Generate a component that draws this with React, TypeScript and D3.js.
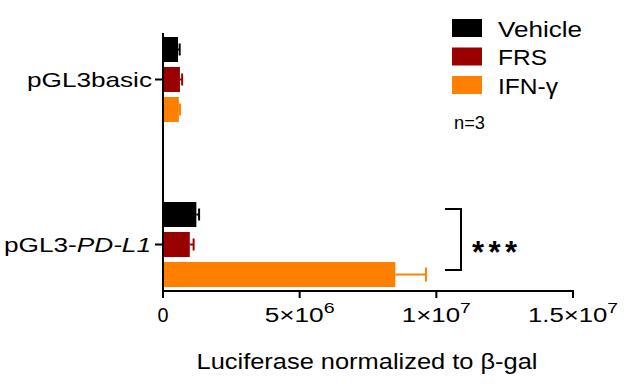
import React, { useEffect, useRef } from "react";
import * as d3 from "d3";

// data
const groups = ["pGL3basic", "pGL3-PD-L1"];
const series = ["Vehicle", "FRS", "IFN-γ"];
const colors = ["#000000", "#990000", "#ff8000"];
const means = [
  [0.55e6, 0.62e6, 0.58e6],
  [1.22e6, 0.98e6, 8.5e6],
];
const errors = [
  [0.06e6, 0.08e6, 0.04e6],
  [0.1e6, 0.14e6, 1.12e6],
];
const xTicks = [0, 5e6, 1e7, 1.5e7];
const xTickLabels = [["0", ""], ["5×10", "6"], ["1×10", "7"], ["1.5×10", "7"]];
const xTickWidths = [11, 70, 69, 90];
const legendWidths = [84, 49, 60];

const App = () => {
  const svgRef = useRef<SVGSVGElement>(null);

  useEffect(() => {
    const svg = d3.select(svgRef.current);
    svg.selectAll("*").remove();

    const width = 627;
    const height = 384;
    const font = "'Liberation Sans', Arial, sans-serif";

    svg.attr("width", width).attr("height", height).style("position", "absolute").style("left", 0).style("top", 0);

    const x = d3.scaleLinear().domain([0, 1.5e7]).range([163, 573]);
    const y = d3.scaleBand().domain(groups).range([37, 287]).paddingInner(0.485).paddingOuter(0);
    const ySub = d3.scaleBand().domain(series).range([0, y.bandwidth()]).paddingInner(0.167).paddingOuter(0);

    // bars
    groups.forEach((g, gi) => {
      series.forEach((s, si) => {
        const y0 = (y(g) as number) + (ySub(s) as number);
        const h = ySub.bandwidth();
        const v = means[gi][si];
        const e = errors[gi][si];
        svg.append("rect")
          .attr("x", x(0))
          .attr("y", y0)
          .attr("width", x(v) - x(0))
          .attr("height", h)
          .attr("fill", colors[si]);
        // error bar
        const cy = y0 + h / 2;
        const capH = gi === 1 && si === 2 ? 14 : 12;
        svg.append("line")
          .attr("x1", x(v)).attr("x2", x(v + e))
          .attr("y1", cy).attr("y2", cy)
          .attr("stroke", colors[si]).attr("stroke-width", 2);
        svg.append("line")
          .attr("x1", x(v + e)).attr("x2", x(v + e))
          .attr("y1", cy - capH / 2).attr("y2", cy + capH / 2)
          .attr("stroke", colors[si]).attr("stroke-width", 2);
      });
    });

    // x axis
    const xAxis = svg.append("g");
    xAxis.append("line")
      .attr("x1", x(0) - 1).attr("x2", x(1.5e7) + 1)
      .attr("y1", 291).attr("y2", 291)
      .attr("stroke", "#000").attr("stroke-width", 2);
    xTicks.forEach((t, i) => {
      xAxis.append("line")
        .attr("x1", x(t)).attr("x2", x(t))
        .attr("y1", 291).attr("y2", 298)
        .attr("stroke", "#000").attr("stroke-width", 2);
      const txt = xAxis.append("text")
        .attr("x", x(t))
        .attr("y", 322)
        .attr("text-anchor", "middle")
        .attr("font-family", font)
        .attr("font-size", 20)
        .attr("textLength", xTickWidths[i])
        .attr("lengthAdjust", "spacingAndGlyphs")
        .text(xTickLabels[i][0]);
      if (xTickLabels[i][1]) {
        txt.append("tspan")
          .attr("dy", -9)
          .attr("font-size", 15)
          .text(xTickLabels[i][1]);
      }
    });

    // y axis
    svg.append("line")
      .attr("x1", x(0)).attr("x2", x(0))
      .attr("y1", 33).attr("y2", 292)
      .attr("stroke", "#000").attr("stroke-width", 2);
    groups.forEach((g) => {
      const cy = (y(g) as number) + y.bandwidth() / 2;
      svg.append("line")
        .attr("x1", 155).attr("x2", x(0))
        .attr("y1", cy).attr("y2", cy)
        .attr("stroke", "#000").attr("stroke-width", 2);
    });
    svg.append("text")
      .attr("x", 152).attr("y", (y(groups[0]) as number) + y.bandwidth() / 2 + 7.5)
      .attr("text-anchor", "end")
      .attr("font-family", font).attr("font-size", 21)
      .attr("textLength", 125).attr("lengthAdjust", "spacingAndGlyphs")
      .text("pGL3basic");
    const lbl = svg.append("text")
      .attr("x", 151).attr("y", (y(groups[1]) as number) + y.bandwidth() / 2 + 7.5)
      .attr("text-anchor", "end")
      .attr("font-family", font).attr("font-size", 21)
      .attr("textLength", 147).attr("lengthAdjust", "spacingAndGlyphs");
    lbl.append("tspan").text("pGL3-");
    lbl.append("tspan").attr("font-style", "italic").text("PD-L1");

    // x axis title
    svg.append("text")
      .attr("x", 367).attr("y", 369)
      .attr("text-anchor", "middle")
      .attr("font-family", font).attr("font-size", 22)
      .attr("textLength", 341).attr("lengthAdjust", "spacingAndGlyphs")
      .text("Luciferase normalized to β-gal");

    // significance bracket
    svg.append("path")
      .attr("d", "M445,209 H461 V270 H445")
      .attr("fill", "none").attr("stroke", "#000").attr("stroke-width", 2);
    svg.append("text")
      .attr("x", 472).attr("y", 263)
      .attr("font-family", font).attr("font-size", 31).attr("font-weight", "bold")
      .attr("textLength", 45).attr("lengthAdjust", "spacing")
      .text("***");

    // legend
    series.forEach((s, i) => {
      const ly = 19 + i * 28.5;
      svg.append("rect")
        .attr("x", 452).attr("y", ly)
        .attr("width", 30).attr("height", 18)
        .attr("fill", colors[i]);
      svg.append("text")
        .attr("x", 498).attr("y", ly + 17.5)
        .attr("font-family", font).attr("font-size", 22)
        .attr("textLength", legendWidths[i]).attr("lengthAdjust", "spacingAndGlyphs")
        .text(s);
    });
    svg.append("text")
      .attr("x", 454).attr("y", 129)
      .attr("font-family", font).attr("font-size", 18)
      .attr("textLength", 31).attr("lengthAdjust", "spacingAndGlyphs")
      .text("n=3");
  }, []);

  return <svg ref={svgRef}></svg>;
};

export default App;
